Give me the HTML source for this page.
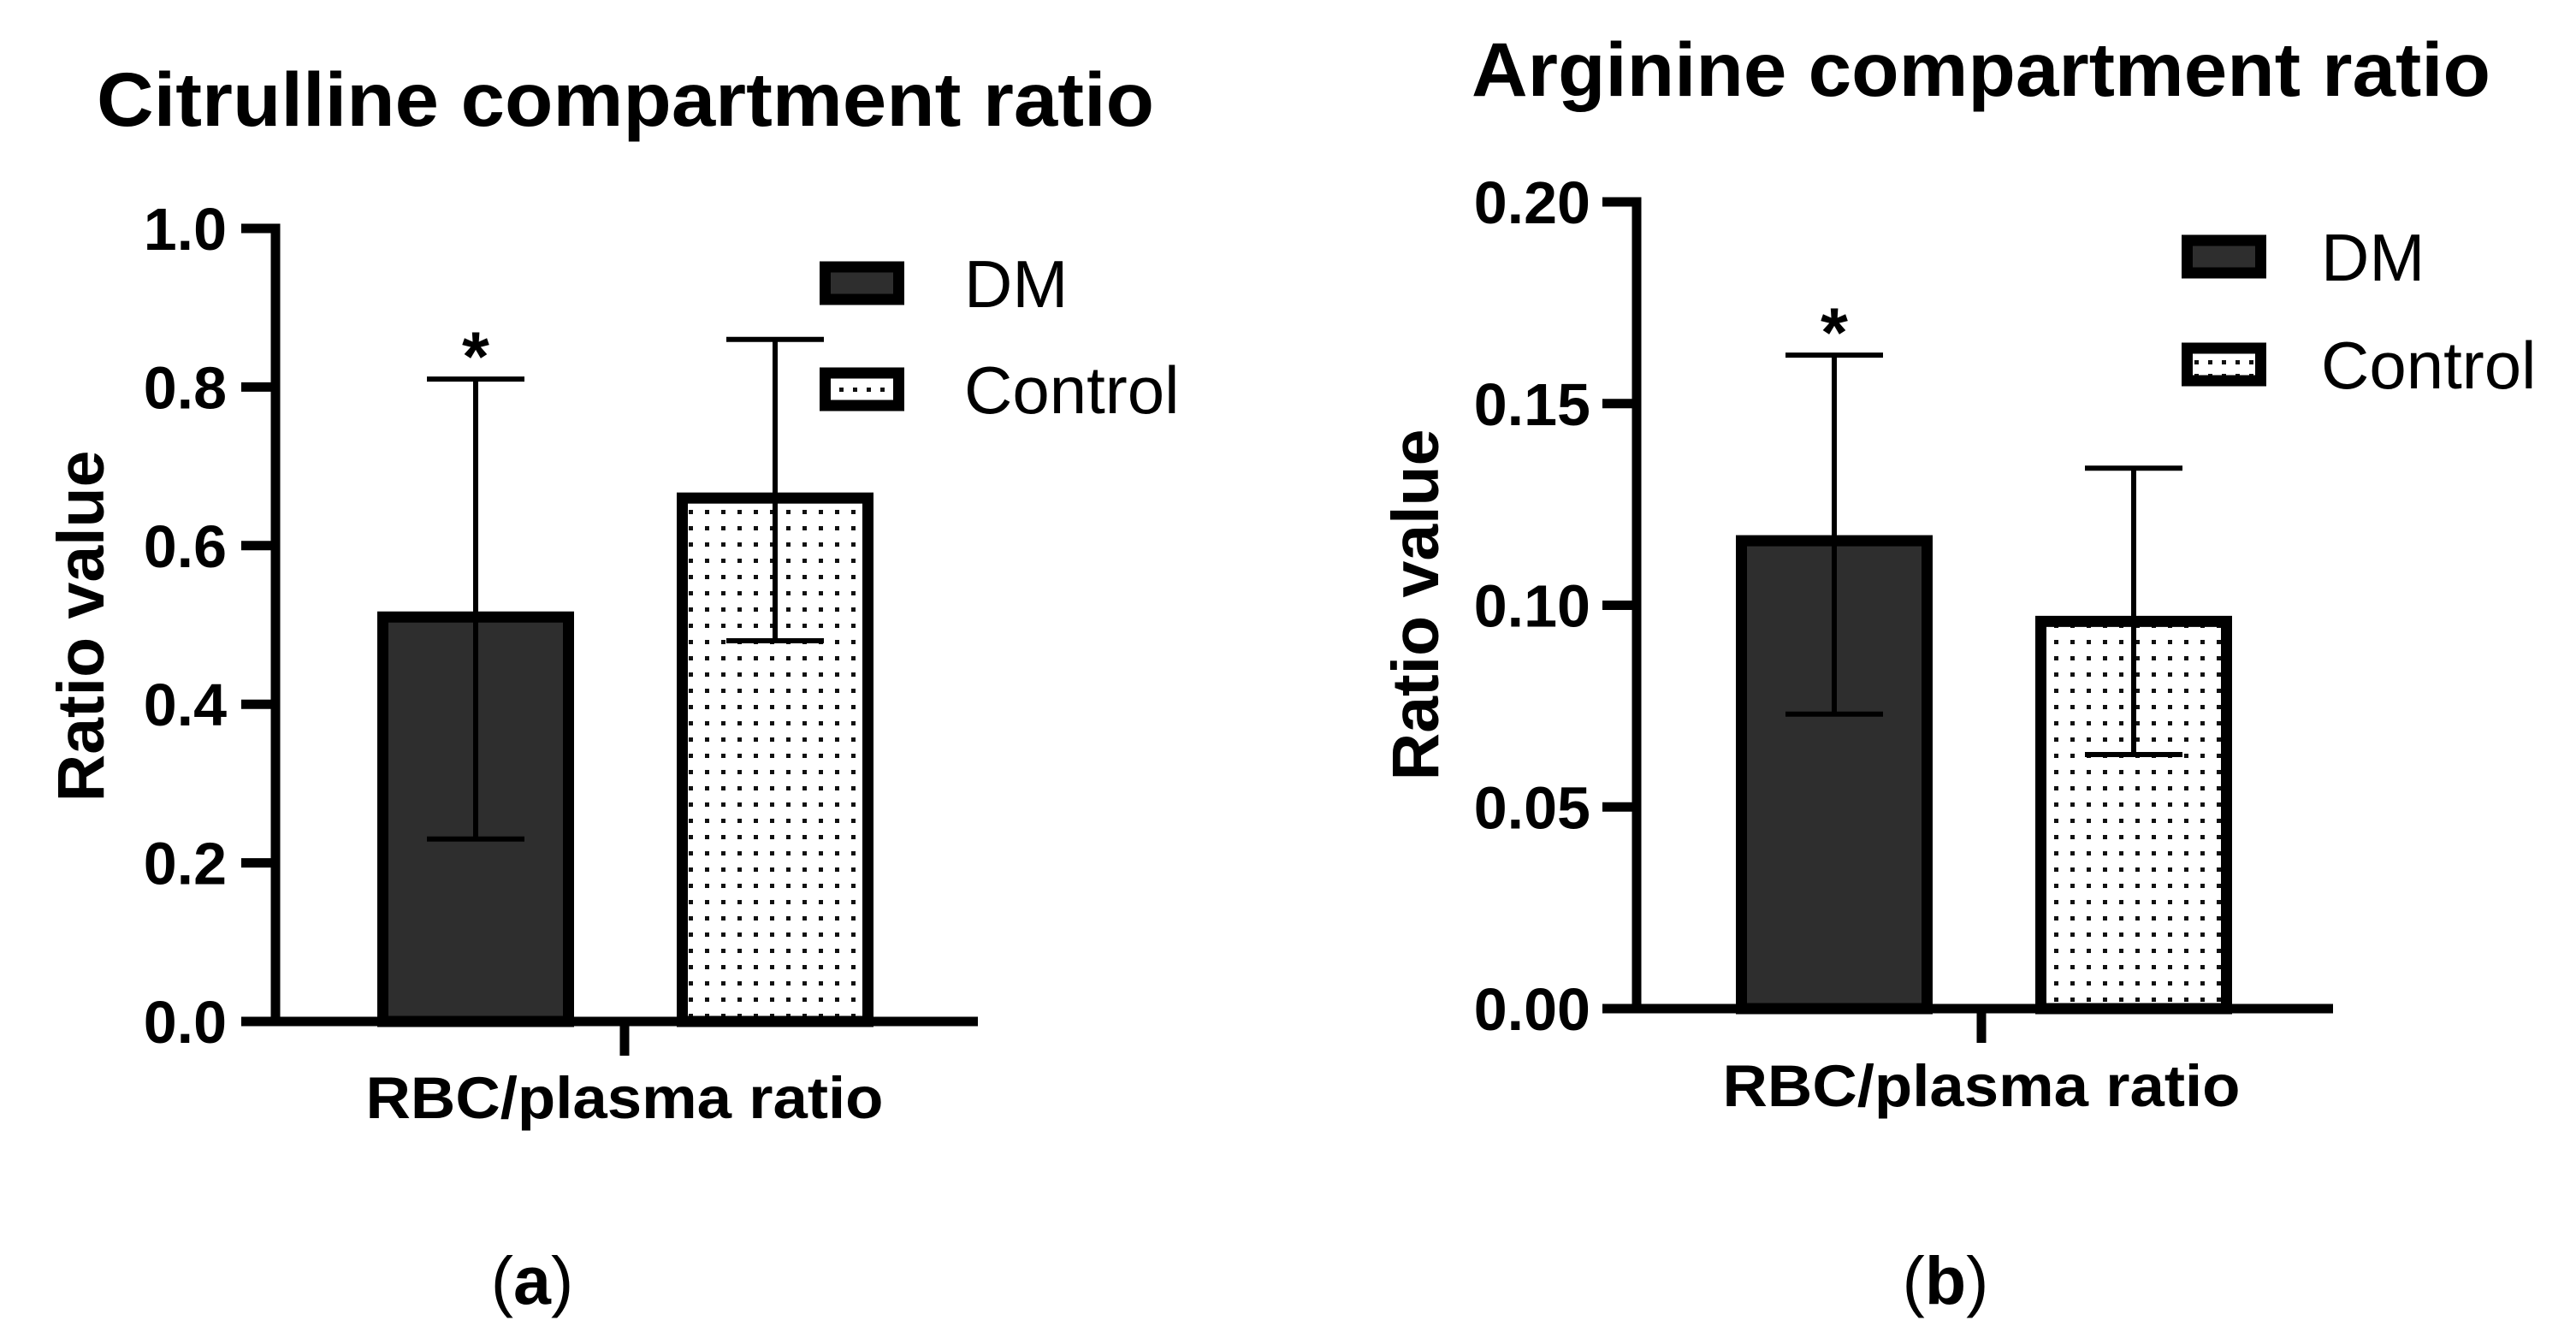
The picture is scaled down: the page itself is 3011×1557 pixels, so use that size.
<!DOCTYPE html>
<html><head><meta charset="utf-8"><style>
html,body{margin:0;padding:0;background:#fff;}
svg{display:block;}
text{font-family:"Liberation Sans",Arial,sans-serif;}
</style></head><body>
<svg id="fig" width="3011" height="1557" viewBox="0 0 3011 1557" xmlns="http://www.w3.org/2000/svg">
<defs>
<pattern id="dots" width="19" height="19" patternUnits="userSpaceOnUse">
<rect width="19" height="19" fill="#fff"/><rect x="7" y="7" width="5" height="5" fill="#111"/>
</pattern>
<pattern id="dotsLeg" width="16" height="16" patternUnits="userSpaceOnUse">
<rect width="16" height="16" fill="#fff"/><rect x="5" y="5" width="5" height="5" fill="#111"/>
</pattern>
</defs>
<g id="panelA"></g>
<g id="panelB"></g>
</svg>
<script>
// Panel (a) data
const catsA = ["DM", "Control"];
const valuesA = [0.51, 0.66];
const errHighA = [0.81, 0.86];
const errLowA = [0.23, 0.48];
const ticksA = [0, 0.2, 0.4, 0.6, 0.8, 1.0];
const tickLabelsA = ["0.0", "0.2", "0.4", "0.6", "0.8", "1.0"];
// Panel (b) data
const catsB = ["DM", "Control"];
const valuesB = [0.116, 0.096];
const errHighB = [0.162, 0.134];
const errLowB = [0.073, 0.063];
const ticksB = [0, 0.05, 0.10, 0.15, 0.20];
const tickLabelsB = ["0.00", "0.05", "0.10", "0.15", "0.20"];
const sigFlagsA = [true, false];
const sigFlagsB = [true, false];

const NS = "http://www.w3.org/2000/svg";
function mk(parent, tag, attrs, txt) {
  const e = document.createElementNS(NS, tag);
  for (const k in attrs) e.setAttribute(k, attrs[k]);
  if (txt !== undefined) e.textContent = txt;
  parent.appendChild(e);
  return e;
}

function drawPanel(g, cfg) {
  const yS = v => cfg.y0 - (v / cfg.yMax) * (cfg.y0 - cfg.yTop);
  const xC = i => cfg.barX0 + i * cfg.barStep;
  const t = mk(g, "text", {x: cfg.titleX, y: cfg.titleY, "font-size": 89, "font-weight": "bold", textLength: cfg.titleW, lengthAdjust: "spacingAndGlyphs"}, cfg.title);
  
  
  cfg.cats.forEach((c, i) => {
    const cx = xC(i), w = 217;
    const top = yS(cfg.values[i]);
    const r = mk(g, "rect", {x: cx - w / 2, y: top, width: w, height: cfg.y0 - top, fill: i === 0 ? "#2e2e2e" : "url(#dots)", stroke: "#000", "stroke-width": 13});
    
    
  });
  cfg.cats.forEach((c, i) => {
    const cx = xC(i);
    const eg = mk(g, "g", {stroke: "#000", "stroke-width": 6});
    
    
    mk(eg, "line", {x1: cx, x2: cx, y1: yS(cfg.errLow[i]), y2: yS(cfg.errHigh[i])});
    mk(eg, "line", {x1: cx - 57, x2: cx + 57, y1: yS(cfg.errHigh[i]), y2: yS(cfg.errHigh[i])});
    mk(eg, "line", {x1: cx - 57, x2: cx + 57, y1: yS(cfg.errLow[i]), y2: yS(cfg.errLow[i])});
    if (cfg.sig[i]) {
      const s = mk(g, "text", {x: cx, y: yS(cfg.errHigh[i]) + 2, "font-size": 82, "font-weight": "bold", "text-anchor": "middle"}, "*");
      
      
    }
  });
  const ax = mk(g, "g", {stroke: "#000", "stroke-width": 11, fill: "none"});
  
  
  mk(ax, "line", {x1: cfg.axisX, x2: cfg.axisX, y1: cfg.yTop - 5.5, y2: cfg.y0 + 5.5});
  mk(ax, "line", {x1: cfg.axisX - 40, x2: cfg.xEnd, y1: cfg.y0, y2: cfg.y0});
  mk(ax, "line", {x1: cfg.xTick, x2: cfg.xTick, y1: cfg.y0, y2: cfg.y0 + 40});
  cfg.ticks.forEach((v, i) => {
    mk(ax, "line", {x1: cfg.axisX - 40, x2: cfg.axisX, y1: yS(v), y2: yS(v)});
    const tl = mk(g, "text", {x: cfg.tickLabelX, y: yS(v) + 25, "font-size": 70, "font-weight": "bold", "text-anchor": "end"}, cfg.tickLabels[i]);
    
    
  });
  const yl = mk(g, "text", {x: 0, y: 0, "font-size": 77, "font-weight": "bold", "text-anchor": "middle", transform: `translate(${cfg.yLabX},${cfg.yLabY}) rotate(-90) translate(0,28)`}, "Ratio value");
  
  
  const xl = mk(g, "text", {x: cfg.xTick, y: cfg.xLabY, "font-size": 69, "font-weight": "bold", "text-anchor": "middle", textLength: 605, lengthAdjust: "spacingAndGlyphs"}, "RBC/plasma ratio");
  
  
  cfg.cats.forEach((c, i) => {
    const ly = cfg.legY[i];
    const lg = mk(g, "g", {});
    
    
    mk(lg, "rect", {x: cfg.legX + 6.5, y: ly - 19, width: 86, height: 38, fill: i === 0 ? "#2e2e2e" : "url(#dotsLeg)", stroke: "#000", "stroke-width": 13});
    mk(lg, "text", {x: cfg.legTextX, y: ly + 28, "font-size": 78}, c);
  });
  const pl = mk(g, "text", {x: cfg.letterX, y: 1524, "font-size": 79, "text-anchor": "middle", "font-family": "Liberation Serif, serif"}, "");
  mk(pl, "tspan", {}, "(");
  mk(pl, "tspan", {"font-weight": "bold"}, cfg.letter);
  mk(pl, "tspan", {}, ")");
  
  
}

drawPanel(document.getElementById("panelA"), {
  title: "Citrulline compartment ratio", titleX: 113, titleY: 147, titleW: 1236,
  cats: catsA, values: valuesA, errHigh: errHighA, errLow: errLowA, sig: sigFlagsA,
  ticks: ticksA, tickLabels: tickLabelsA, yMax: 1.0,
  y0: 1194, yTop: 267, axisX: 322, xEnd: 1143, xTick: 730, barX0: 556, barStep: 350,
  tickLabelX: 265, yLabX: 93, yLabY: 732, xLabY: 1307,
  legX: 958, legTextX: 1127, legY: [331, 455], letter: "a", letterX: 622
});
drawPanel(document.getElementById("panelB"), {
  title: "Arginine compartment ratio", titleX: 1720, titleY: 112, titleW: 1191,
  cats: catsB, values: valuesB, errHigh: errHighB, errLow: errLowB, sig: sigFlagsB,
  ticks: ticksB, tickLabels: tickLabelsB, yMax: 0.20,
  y0: 1179, yTop: 236, axisX: 1913, xEnd: 2727, xTick: 2316, barX0: 2144, barStep: 350,
  tickLabelX: 1859, yLabX: 1653, yLabY: 707, xLabY: 1293,
  legX: 2550, legTextX: 2713, legY: [300, 426], letter: "b", letterX: 2274
});
</script>
</body></html>
